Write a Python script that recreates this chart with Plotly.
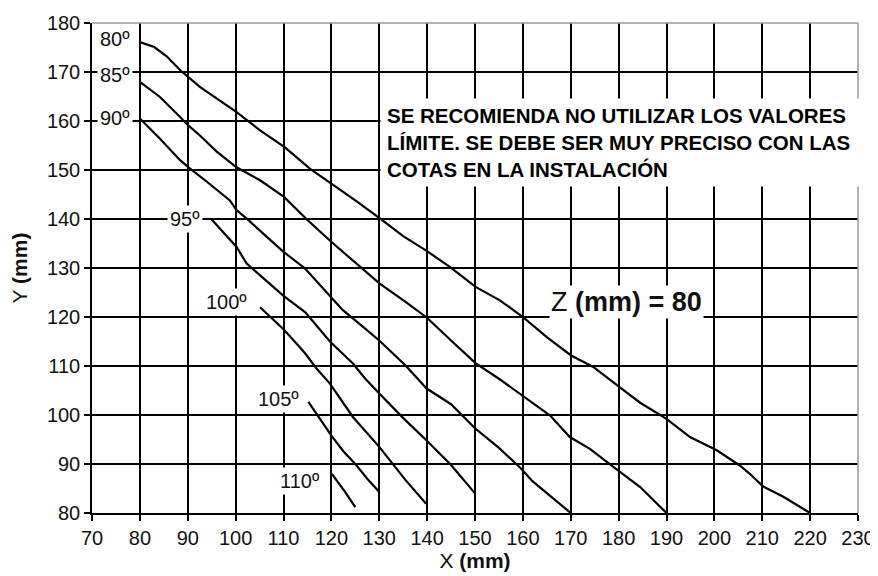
import plotly.graph_objects as go

# ---------------- data ----------------
x_80 = [80, 83, 85.6, 88.6, 92.6, 96.7, 100.2, 105.1, 110.3, 115.5, 120.1, 125, 130.2, 135,
        139.9, 144.8, 150.2, 155.2, 160, 165, 170, 174.7, 180.2, 184.5, 190, 194.9, 200.5,
        205.3, 207.4, 210.2, 214.4, 220]
y_80 = [176.1, 175.1, 173.2, 170.2, 166.9, 164.2, 161.8, 158.1, 154.6, 150.3, 147.2, 143.8,
        140.1, 136.5, 133.5, 130.2, 126.1, 123.4, 120, 115.9, 112.2, 109.8, 105.7, 102.5,
        99.2, 95.5, 92.8, 89.7, 88.0, 85.4, 83.3, 80]

x_85 = [80, 84.2, 88.4, 90.1, 92.6, 96, 100.1, 105.1, 110.1, 115, 119.9, 125.2, 130.1,
        135.5, 139.9, 145, 150.1, 155, 160.2, 165.7, 169.8, 174, 178.9, 184.5, 190]
y_85 = [168, 164.9, 160.8, 159.1, 157, 153.8, 150.6, 147.9, 144.5, 139.8, 135.4, 130.9,
        126.8, 123.1, 119.9, 115.2, 110.6, 107.4, 103.8, 99.9, 95.5, 93.1, 89.4, 85.3, 80]

x_90 = [80, 84, 88.4, 90.1, 94, 98.8, 100.2, 102.3, 106, 110, 114.5, 119.7, 122.4, 126,
        130, 135.5, 139.9, 145, 150, 155, 159.5, 162, 166, 170]
y_90 = [160.5, 156.6, 152.0, 150.6, 147.6, 143.8, 141.8, 140.1, 136.8, 133.3, 129.9, 124.4,
        121.4, 118.5, 115.2, 110.1, 105.4, 102.2, 97.3, 93.3, 89.2, 86.5, 83.2, 80]

x_95 = [95, 100.2, 102.3, 106, 110, 114.5, 119.7, 124.5, 127, 130, 135.5, 139.9, 145, 150]
y_95 = [139.9, 134.3, 130.9, 127.8, 124.3, 121, 115, 110.5, 107.5, 104.4, 98.9, 94.8,
        89.8, 84]

x_100 = [105.1, 110, 112.8, 114.5, 116.9, 119.7, 124.5, 130, 135.5, 139.8]
y_100 = [122, 117.5, 114.5, 112.6, 109.5, 106.4, 99.6, 93.5, 86.7, 81.9]

x_105 = [115.2, 117.5, 120, 122.5, 125, 127.5, 130]
y_105 = [102.7, 99.5, 95.8, 92.6, 90, 87, 84.3]

x_110 = [120.1, 122.5, 125]
y_110 = [88, 84.8, 81.2]

angle_labels = ["80º", "85º", "90º", "95º", "100º", "105º", "110º"]
x_ticks = [70, 80, 90, 100, 110, 120, 130, 140, 150, 160, 170, 180, 190, 200, 210, 220, 230]
y_ticks = [80, 90, 100, 110, 120, 130, 140, 150, 160, 170, 180]

note_text = ("SE RECOMIENDA NO UTILIZAR LOS VALORES<br>"
             "LÍMITE. SE DEBE SER MUY PRECISO CON LAS<br>"
             "COTAS EN LA INSTALACIÓN")
z_text = "Z <b>(mm) = 80</b>"

series_x = [x_80, x_85, x_90, x_95, x_100, x_105, x_110]
series_y = [y_80, y_85, y_90, y_95, y_100, y_105, y_110]

# label anchor positions (layout, right edge of each label)
label_pos = [(78.6, 176.7), (78.6, 169.3), (78.6, 160.6), (93.2, 140.1),
             (103.0, 123.0), (113.9, 103.2), (118.3, 86.5)]

FONT = "Liberation Sans, Arial, sans-serif"

fig = go.Figure()
for xs, ys, name in zip(series_x, series_y, angle_labels):
    fig.add_trace(go.Scatter(x=xs, y=ys, mode="lines", name=name,
                             line=dict(color="black", width=2.2),
                             showlegend=False, hoverinfo="skip"))

annotations = []
for (lx, ly), txt in zip(label_pos, angle_labels):
    annotations.append(dict(x=lx, y=ly, xref="x", yref="y", text=txt, showarrow=False,
                            xanchor="right", yanchor="middle", bgcolor="white",
                            borderpad=2, font=dict(family=FONT, size=20, color="#111")))

annotations.append(dict(x=130.2, y=164.6, xref="x", yref="y", text="<b>" + note_text + "</b>",
                        showarrow=False, xanchor="left", yanchor="top", align="left",
                        width=466, height=75, borderpad=6, bgcolor="white",
                        font=dict(family=FONT, size=20.5, color="black")))

annotations.append(dict(x=181.6, y=123.1, xref="x", yref="y", text=z_text, showarrow=False,
                        xanchor="center", yanchor="middle", bgcolor="white", borderpad=1,
                        font=dict(family=FONT, size=27, color="#111")))

# page body has an 8px margin, so the figure is offset to line up with the 878x576 window
fig.update_layout(
    width=870, height=568,
    margin=dict(l=84, r=20, t=15, b=63, autoexpand=False),
    paper_bgcolor="white", plot_bgcolor="white",
    font=dict(family=FONT, color="#111"),
    annotations=annotations,
    shapes=[
        dict(type="line", xref="x domain", yref="y domain", x0=1, x1=1, y0=0, y1=1,
             line=dict(color="#9a9a9a", width=1.5), layer="above"),
        dict(type="line", xref="x domain", yref="y domain", x0=0, x1=1, y0=1, y1=1,
             line=dict(color="#9a9a9a", width=1.5), layer="above"),
    ],
)

fig.update_xaxes(range=[70, 230], tickvals=x_ticks, ticktext=[str(v) for v in x_ticks],
                 automargin=False,
                 showgrid=True, gridcolor="black", gridwidth=1.5,
                 showline=True, linecolor="black", linewidth=1.5,
                 ticks="outside", ticklen=6, tickcolor="black", tickwidth=1.5,
                 tickfont=dict(family=FONT, size=20, color="#111"),
                 zeroline=False,
                 title=dict(text="X <b>(mm)</b>", font=dict(family=FONT, size=21, color="#111"),
                            standoff=2))
fig.update_yaxes(range=[80, 180], tickvals=y_ticks, ticktext=[str(v) for v in y_ticks],
                 automargin=False,
                 showgrid=True, gridcolor="black", gridwidth=1.5,
                 showline=True, linecolor="black", linewidth=1.5,
                 ticks="outside", ticklen=6, tickcolor="black", tickwidth=1.5,
                 tickfont=dict(family=FONT, size=20, color="#111"),
                 zeroline=False,
                 title=dict(text="Y <b>(mm)</b>", font=dict(family=FONT, size=21, color="#111"),
                            standoff=22))

fig.write_html("out.html")
